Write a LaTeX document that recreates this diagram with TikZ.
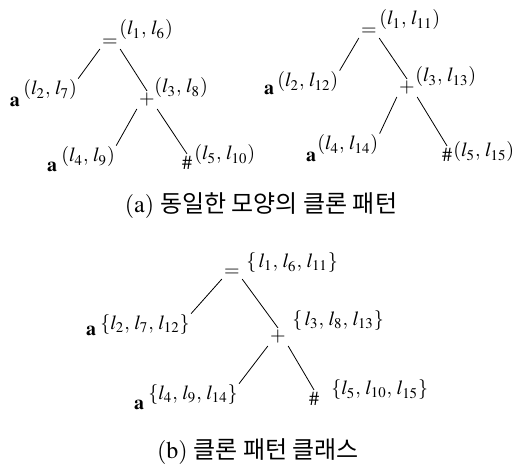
\documentclass[tikz,border=0pt]{standalone}
\usepackage{mathptmx}
\usepackage{fontspec}
\setmainfont{Liberation Serif}
\newfontfamily\kr{Noto Sans CJK KR}
\begin{document}
\begin{tikzpicture}[x=0.5pt,y=-0.5pt,
    sym/.style={inner sep=1pt},
    tag/.style={inner sep=0.5pt, anchor=west},
    captext/.style={font=\fontsize{12}{14}\selectfont}]

        \useasboundingbox (0,0) rectangle (528,469);

        % (a) first tree
        \node[sym] (eqA) at (110,43) {$=$};
        \node[tag] (eqAt) at (118,30) {$(l_1,\, l_6)$};
        \node[sym] (aA) at (15,102) {$\mathbf{a}$};
        \node[tag] (aAt) at (22,90) {$(l_2,\, l_7)$};
        \node[sym] (plA) at (147,100) {$+$};
        \node[tag] (plAt) at (153,88) {$(l_3,\, l_8)$};
        \node[sym] (bA) at (52,167) {$\mathbf{a}$};
        \node[tag] (bAt) at (60,157) {$(l_4,\, l_9)$};
        \node[sym] (hsA) at (187,163) {$\#$};
        \node[tag] (hsAt) at (193,155) {$(l_5,\, l_{10})$};

        \draw (eqA.south west) -- (aAt.north east);
        \draw (eqA.south east) -- (plA.north);
        \draw (plA.south west) -- (bAt.north east);
        \draw (plA.south east) -- (hsA.north);

        % (a) second tree
        \node[sym] (eqB) at (369,32) {$=$};
        \node[tag] (eqBt) at (378,20) {$(l_1,\, l_{11})$};
        \node[sym] (aB) at (269,90) {$\mathbf{a}$};
        \node[tag] (aBt) at (276,82) {$(l_2,\, l_{12})$};
        \node[sym] (plB) at (407,88) {$+$};
        \node[tag] (plBt) at (414,77) {$(l_3,\, l_{13})$};
        \node[sym] (bB) at (311,157) {$\mathbf{a}$};
        \node[tag] (bBt) at (316,145) {$(l_4,\, l_{14})$};
        \node[sym] (hsB) at (447,155) {$\#$};
        \node[tag] (hsBt) at (452,152) {$(l_5,\, l_{15})$};

        \draw (eqB.south west) -- (aBt.north east);
        \draw (eqB.south east) -- (plB.north);
        \draw (plB.south west) -- (bBt.north east);
        \draw (plB.south east) -- (hsB.north);

        \node[captext] (capA) at (261,206) {$(\mathrm{a})$ {\kr 동일한 모양의 클론 패턴}};

        % (b) class tree
        \node[sym] (eqC) at (232,273) {$=$};
        \node[tag] (eqCt) at (245,263) {$\{\, l_1,\, l_6,\, l_{11}\}$};
        \node[sym] (aC) at (91,331) {$\mathbf{a}$};
        \node[tag] (aCt) at (99,325) {$\{l_2,\, l_7,\, l_{12}\}$};
        \node[sym] (plC) at (278,337) {$+$};
        \node[tag] (plCt) at (291,321) {$\{\, l_3,\, l_8,\, l_{13}\}$};
        \node[sym] (bC) at (139,405) {$\mathbf{a}$};
        \node[tag] (bCt) at (147,395) {$\{l_4,\, l_9,\, l_{14}\}$};
        \node[sym] (hsC) at (314,399) {$\#$};
        \node[tag] (hsCt) at (330,390) {$\{l_5,\, l_{10},\, l_{15}\}$};

        \draw (eqC.south west) -- (aCt.north east);
        \draw (eqC.south east) -- (plC.north);
        \draw (plC.south west) -- (bCt.north east);
        \draw (plC.south east) -- (hsC.north);

        \node[captext] (capB) at (258,452) {$(\mathrm{b})$ {\kr 클론 패턴 클래스}};

\end{tikzpicture}
\end{document}
